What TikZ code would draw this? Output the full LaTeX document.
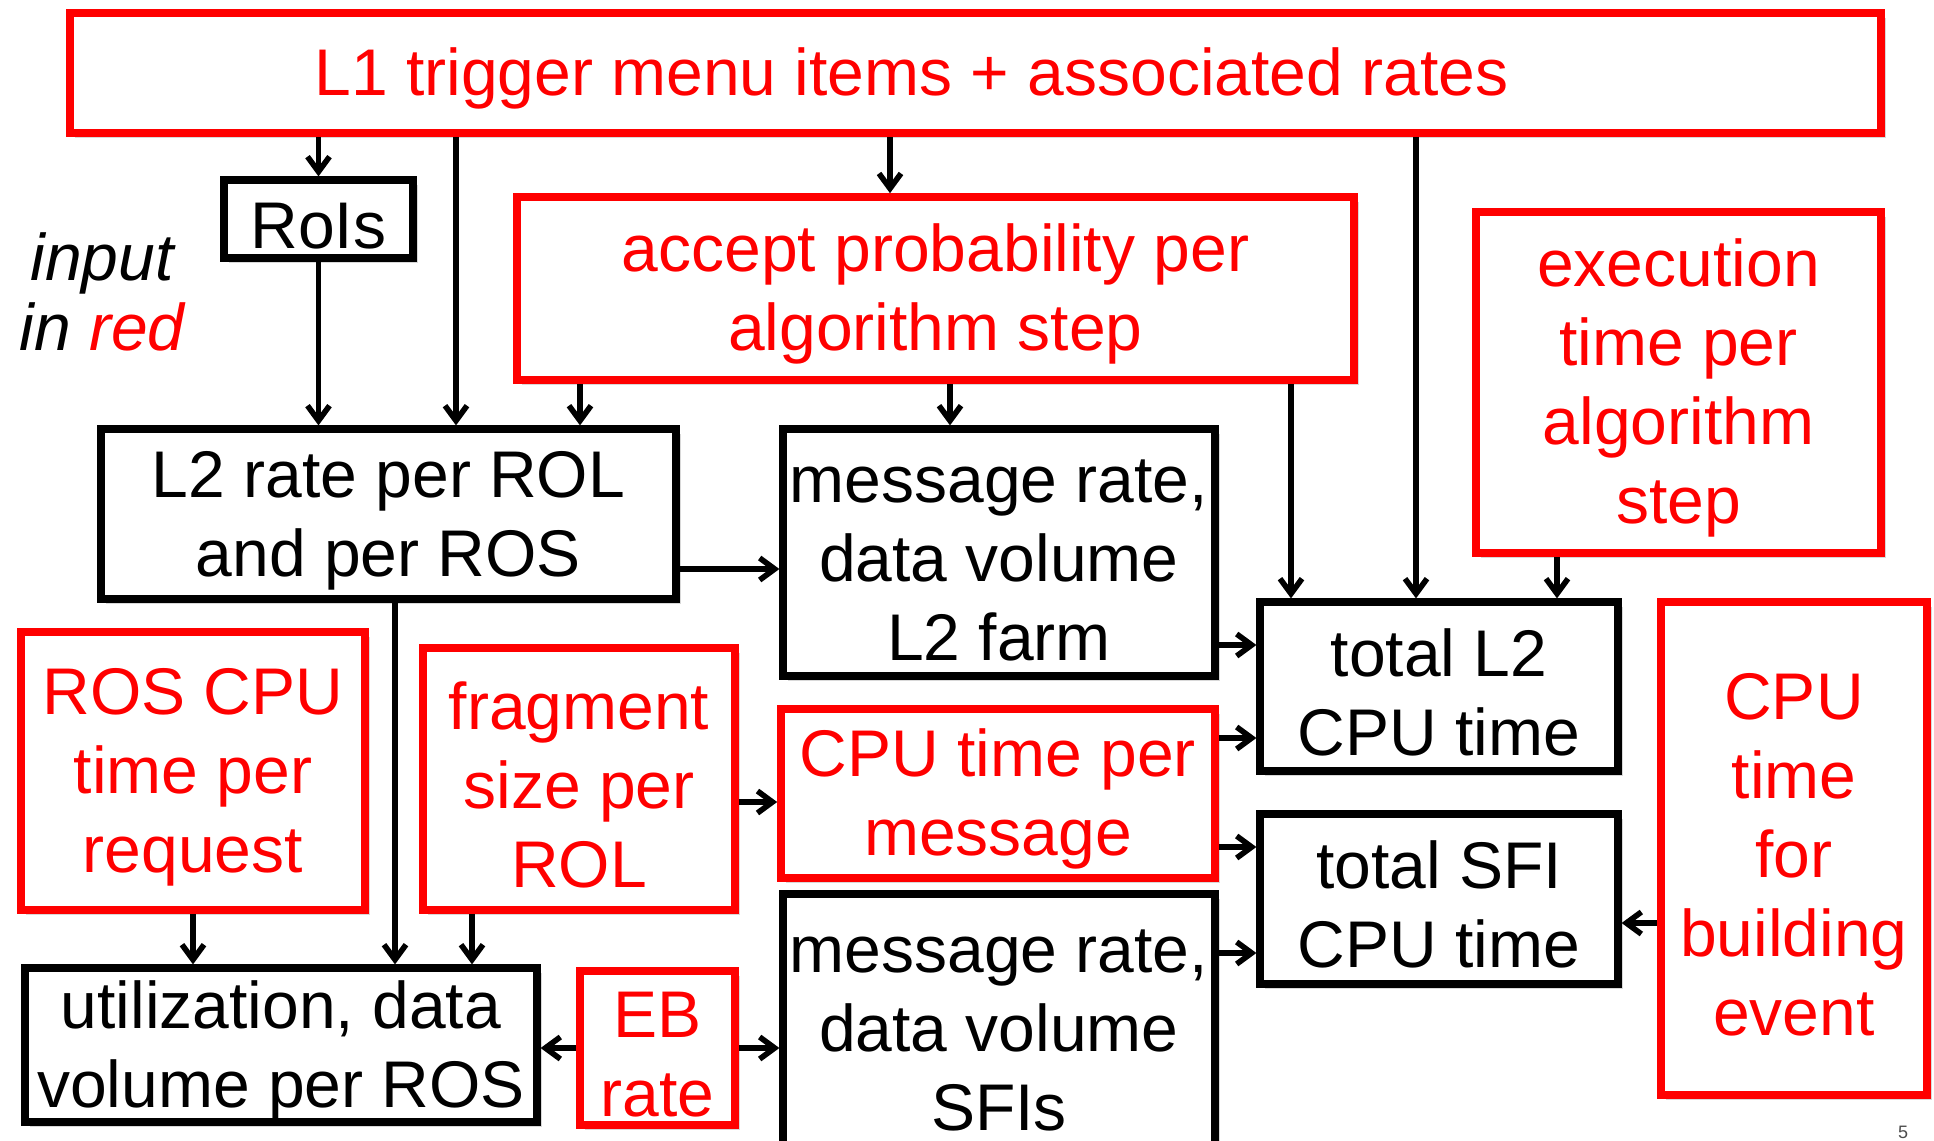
\documentclass[tikz,border=0pt]{standalone}
\usepackage{fontspec}
\setmainfont{Liberation Sans}
\usetikzlibrary{arrows.meta,shadows}
\newcommand{\mystrut}{\rule{0pt}{29.5pt}}
\begin{document}
\begin{tikzpicture}[x=0.5pt,y=-0.5pt,
  box/.style={draw=black,line width=3.6pt,fill=white,align=center,
    font=\fontsize{33}{39.5}\selectfont,inner sep=0pt,
    drop shadow={shadow xshift=2.5pt,shadow yshift=-2.5pt,opacity=0.3}},
  rbox/.style={box,draw=red,text=red,line width=3.8pt},
  arr/.style={-{Straight Barb[length=7.5pt,width=11pt,line width=2.8pt]},line width=2.9pt}]
\useasboundingbox (0,0) rectangle (1934,1141);
\fill[white] (0,0) rectangle (1934,1141);
\clip (0,0) rectangle (1934,1141);

\node[rbox,minimum width=905.5pt,minimum height=60pt] (L1) at (975.5,73) {\mystrut L1 trigger menu items + associated rates\hspace*{64pt}};
\node[box,minimum width=94.5pt,minimum height=39pt] (RoIs) at (318.5,219) {\mystrut RoIs};
\node[align=center,font=\fontsize{33}{35}\selectfont\itshape] (inp) at (102,292) {input\\in \textcolor{red}{red}};
\node[rbox,minimum width=418.5pt,minimum height=91.5pt] (accept) at (935.5,288.5) {\mystrut accept probability per\\algorithm step};
\node[rbox,minimum width=202.5pt,minimum height=170.5pt] (exec) at (1678.5,382.5) {\mystrut execution\\time per\\algorithm\\step};
\node[box,minimum width=287.5pt,minimum height=85pt] (L2rate) at (388.5,514) {\mystrut L2 rate per ROL\\and per ROS};
\node[box,minimum width=216pt,minimum height=123.5pt] (msgL2) at (999,552.5) {\mystrut message rate,\\data volume\\L2 farm};
\node[box,minimum width=179pt,minimum height=84.5pt] (totalL2) at (1439,686.5) {\mystrut total L2\\CPU time};
\node[rbox,minimum width=172pt,minimum height=139pt] (ROSCPU) at (193,771) {\mystrut ROS CPU\\time per\\request};
\node[rbox,minimum width=156pt,minimum height=131pt] (frag) at (579,779) {\mystrut fragment\\size per\\ROL};
\node[rbox,minimum width=217pt,minimum height=84.5pt] (CPUmsg) at (998,793.5) {\mystrut CPU time per\\message};
\node[box,minimum width=179pt,minimum height=85pt] (totalSFI) at (1439,899) {\mystrut total SFI\\CPU time};
\node[rbox,minimum width=133pt,minimum height=246.5pt] (build) at (1794,848.5) {\mystrut CPU\\time\\for\\building\\event};
\node[box,minimum width=256pt,minimum height=77pt] (util) at (281,1045) {\mystrut utilization, data\\volume per ROS};
\node[rbox,minimum width=77.5pt,minimum height=77pt] (EB) at (657.5,1048) {\mystrut EB\\rate};
\node[box,minimum width=216pt,minimum height=128pt] (msgSFI) at (999,1022) {\mystrut message rate,\\data volume\\SFIs};
\node[font=\fontsize{9}{10}\selectfont,text=black!70] (pg) at (1903,1132) {5};

\coordinate (xA) at (456,0);
\coordinate (xB) at (890,0);
\coordinate (xC) at (1416,0);
\coordinate (xD) at (580,0);
\coordinate (xE) at (950,0);
\coordinate (xF) at (1291,0);
\coordinate (xG) at (1557,0);
\coordinate (xH) at (395,0);
\coordinate (xI) at (472,0);
\coordinate (yA) at (0,569);
\coordinate (yB) at (0,802);
\coordinate (yC) at (0,645);
\coordinate (yD) at (0,738);
\coordinate (yE) at (0,847);
\coordinate (yF) at (0,953);
\coordinate (yG) at (0,923);

\draw[arr] (L1.south -| RoIs.north) -- (RoIs.north);
\draw[arr] (L1.south -| xA) -- (L2rate.north -| xA);
\draw[arr] (L1.south -| xB) -- (accept.north -| xB);
\draw[arr] (L1.south -| xC) -- (totalL2.north -| xC);
\draw[arr] (RoIs.south) -- (L2rate.north -| RoIs.south);
\draw[arr] (accept.south -| xD) -- (L2rate.north -| xD);
\draw[arr] (accept.south -| xE) -- (msgL2.north -| xE);
\draw[arr] (accept.south -| xF) -- (totalL2.north -| xF);
\draw[arr] (exec.south -| xG) -- (totalL2.north -| xG);
\draw[arr] (L2rate.east |- yA) -- (msgL2.west |- yA);
\draw[arr] (L2rate.south -| xH) -- (util.north -| xH);
\draw[arr] (ROSCPU.south) -- (util.north -| ROSCPU.south);
\draw[arr] (frag.south -| xI) -- (util.north -| xI);
\draw[arr] (frag.east |- yB) -- (CPUmsg.west |- yB);
\draw[arr] (msgL2.east |- yC) -- (totalL2.west |- yC);
\draw[arr] (CPUmsg.east |- yD) -- (totalL2.west |- yD);
\draw[arr] (CPUmsg.east |- yE) -- (totalSFI.west |- yE);
\draw[arr] (msgSFI.east |- yF) -- (totalSFI.west |- yF);
\draw[arr] (build.west |- yG) -- (totalSFI.east |- yG);
\draw[arr] (EB.west) -- (util.east |- EB.west);
\draw[arr] (EB.east) -- (msgSFI.west |- EB.east);
\end{tikzpicture}
\end{document}
